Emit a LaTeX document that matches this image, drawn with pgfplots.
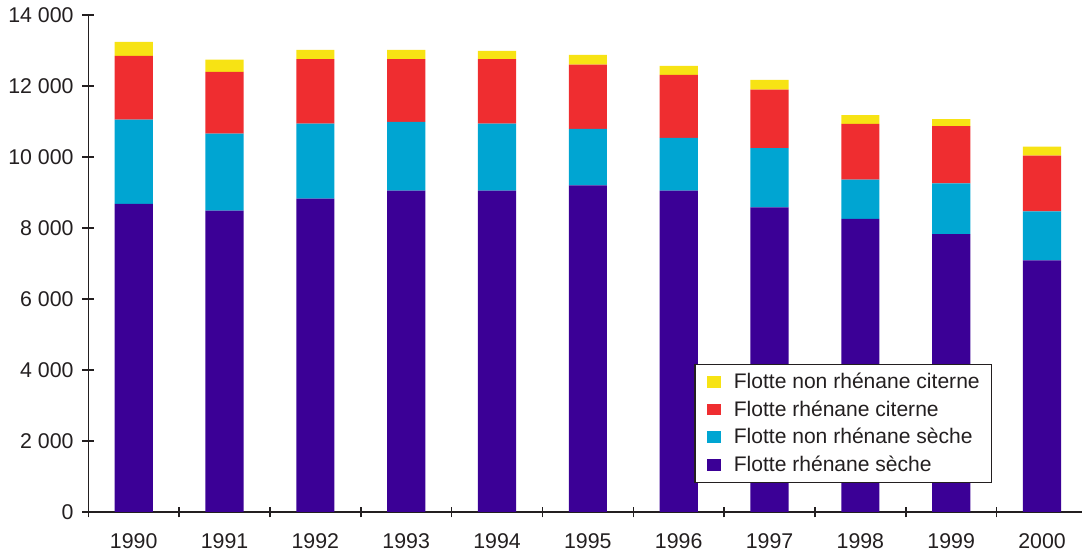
\documentclass[border=0pt]{standalone}
\usepackage{fontspec}
\setmainfont{Liberation Sans}
\usepackage{pgfplots}
\usepackage{pgfplotstable}
\pgfplotsset{compat=1.18}
\definecolor{cPurple}{RGB}{59,0,150}
\definecolor{cCyan}{RGB}{0,165,210}
\definecolor{cRed}{RGB}{239,45,48}
\definecolor{cYellow}{RGB}{247,227,20}
\definecolor{cText}{RGB}{35,31,32}

% x = 0..10 -> 1990..2000
\pgfplotstableread{
x  rs   nrs  rc   nrc
0  8680 2370 1800 390
1  8490 2170 1740 340
2  8830 2110 1820 260
3  9050 1940 1770 260
4  9050 1890 1820 230
5  9200 1590 1810 280
6  9050 1490 1770 260
7  8580 1670 1650 270
8  8260 1100 1570 250
9  7830 1430 1610 200
10 7090 1380 1570 250
}\fleet

\begin{document}
\begin{tikzpicture}
\begin{axis}[
  at={(0pt,0pt)}, anchor=south west,
  width=745.3pt, height=372.75pt, scale only axis,
  ybar stacked, bar width=0.42,
  xmin=-0.5, xmax=10.44, ymin=0, ymax=14000,
  axis x line*=bottom, axis y line*=left,
  axis line style={-, cText, line width=1.1pt},
  every tick/.style={cText, line width=1.1pt},
  tick align=center,
  xtick={0,...,10},
  xticklabels={1990,1991,1992,1993,1994,1995,1996,1997,1998,1999,2000},
  major x tick style={draw=none},
  minor xtick={-0.5,0.5,...,9.5},
  minor tick length=8pt, major tick length=9pt,
  ytick={0,2000,...,14000},
  scaled y ticks=false,
  /pgf/number format/assume math mode=true,
  /pgf/number format/1000 sep={\ },
  ticklabel style={font=\fontsize{16}{18}\selectfont, text=cText},
  xticklabel style={yshift=-8pt},
  yticklabel style={xshift=-3pt},
  legend style={at={(0.6096,0.0584)}, anchor=south west,
    draw=cText, line width=1.1pt, inner xsep=9pt, inner ysep=5pt,
    column sep=9.75pt, row sep=4.8pt,
    font=\fontsize{15.8}{18}\selectfont, text=cText,
    nodes={inner xsep=0pt, inner ysep=0pt, text height=13pt, text depth=3pt}},
  legend cell align=left,
  reverse legend,
  legend image code/.code={\fill[#1, draw=none] (0pt,-4.4pt) rectangle (10.5pt,4.4pt);},
]
\addplot[fill=cPurple, draw=none] table[x=x, y=rs] {\fleet};
\addplot[fill=cCyan, draw=none] table[x=x, y=nrs] {\fleet};
\addplot[fill=cRed, draw=none] table[x=x, y=rc] {\fleet};
\addplot[fill=cYellow, draw=none] table[x=x, y=nrc] {\fleet};
\legend{Flotte rhénane sèche, Flotte non rhénane sèche, Flotte rhénane citerne, Flotte non rhénane citerne}
\end{axis}
\pgfresetboundingbox
\path[use as bounding box] (-66.2pt,-33pt) rectangle (745.3pt,384pt);
\end{tikzpicture}
\end{document}
